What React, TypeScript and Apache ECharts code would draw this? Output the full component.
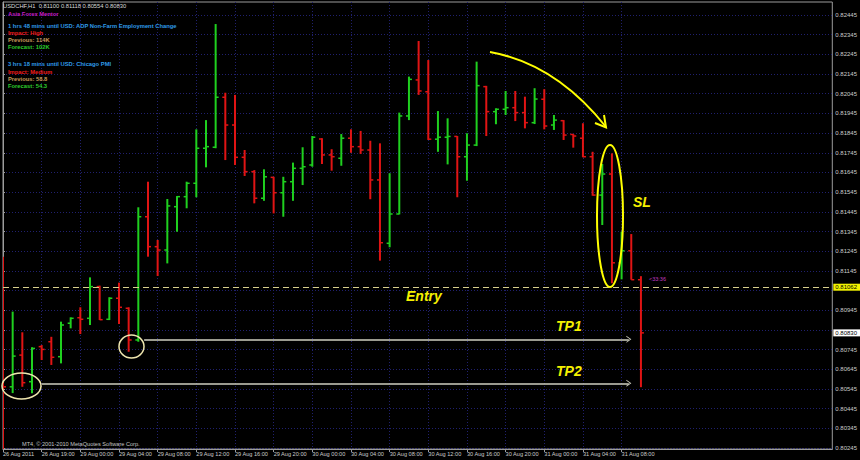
import React, { useEffect, useRef } from 'react';
import * as echarts from 'echarts';

// Hourly bars (USDCHF, H1)
const barTimes = [
  '26 Aug 15:00', '26 Aug 16:00', '26 Aug 17:00', '26 Aug 18:00', '26 Aug 19:00', '26 Aug 20:00', '26 Aug 21:00', '26 Aug 22:00',
  '29 Aug 00:00', '29 Aug 01:00', '29 Aug 02:00', '29 Aug 03:00', '29 Aug 04:00', '29 Aug 05:00', '29 Aug 06:00', '29 Aug 07:00',
  '29 Aug 08:00', '29 Aug 09:00', '29 Aug 10:00', '29 Aug 11:00', '29 Aug 12:00', '29 Aug 13:00', '29 Aug 14:00', '29 Aug 15:00',
  '29 Aug 16:00', '29 Aug 17:00', '29 Aug 18:00', '29 Aug 19:00', '29 Aug 20:00', '29 Aug 21:00', '29 Aug 22:00', '29 Aug 23:00',
  '30 Aug 00:00', '30 Aug 01:00', '30 Aug 02:00', '30 Aug 03:00', '30 Aug 04:00', '30 Aug 05:00', '30 Aug 06:00', '30 Aug 07:00',
  '30 Aug 08:00', '30 Aug 09:00', '30 Aug 10:00', '30 Aug 11:00', '30 Aug 12:00', '30 Aug 13:00', '30 Aug 14:00', '30 Aug 15:00',
  '30 Aug 16:00', '30 Aug 17:00', '30 Aug 18:00', '30 Aug 19:00', '30 Aug 20:00', '30 Aug 21:00', '30 Aug 22:00', '30 Aug 23:00',
  '31 Aug 00:00', '31 Aug 01:00', '31 Aug 02:00', '31 Aug 03:00', '31 Aug 04:00', '31 Aug 05:00', '31 Aug 06:00', '31 Aug 07:00',
  '31 Aug 08:00', '31 Aug 09:00', '31 Aug 10:00',
];

const opens = [
  0.81180, 0.80556, 0.80717, 0.80582, 0.80760, 0.80785, 0.80709, 0.80879,
  0.80907, 0.80904, 0.81065, 0.80899, 0.81006, 0.80955, 0.80794, 0.81420,
  0.81268, 0.81251, 0.81471, 0.81522, 0.81590, 0.81768, 0.81773, 0.82027,
  0.81886, 0.81722, 0.81649, 0.81514, 0.81620, 0.81542, 0.81598, 0.81666,
  0.81683, 0.81815, 0.81734, 0.81717, 0.81819, 0.81776, 0.81759, 0.81607,
  0.81285, 0.81434, 0.81932, 0.82115, 0.82055, 0.81814, 0.81824, 0.81828,
  0.81725, 0.81784, 0.82081, 0.81954, 0.81966, 0.81974, 0.81949, 0.81898,
  0.82017, 0.81886, 0.81908, 0.81838, 0.81819, 0.81725, 0.81530, 0.81637,
  0.81186, 0.81247, 0.81100,
];
const highs = [
  0.81217, 0.80938, 0.80833, 0.80757, 0.80768, 0.80810, 0.80887, 0.80909,
  0.80960, 0.81112, 0.81070, 0.81011, 0.81085, 0.80960, 0.81468, 0.81598,
  0.81302, 0.81510, 0.81525, 0.81598, 0.81864, 0.81911, 0.82399, 0.82050,
  0.82039, 0.81759, 0.81657, 0.81661, 0.81623, 0.81623, 0.81695, 0.81773,
  0.81830, 0.81819, 0.81763, 0.81840, 0.81864, 0.81856, 0.81806, 0.81793,
  0.81641, 0.81949, 0.82132, 0.82313, 0.82216, 0.81957, 0.81920, 0.81830,
  0.81844, 0.82208, 0.82085, 0.81971, 0.82059, 0.82059, 0.82030, 0.82073,
  0.82068, 0.81937, 0.81911, 0.81840, 0.81895, 0.81750, 0.81688, 0.81742,
  0.81344, 0.81332, 0.81118,
];
const lows = [
  0.80100, 0.80524, 0.80556, 0.80523, 0.80692, 0.80667, 0.80675, 0.80853,
  0.80824, 0.80870, 0.80895, 0.80895, 0.80875, 0.80734, 0.80785, 0.81217,
  0.81119, 0.81183, 0.81344, 0.81463, 0.81519, 0.81671, 0.81768, 0.81708,
  0.81683, 0.81627, 0.81488, 0.81501, 0.81437, 0.81420, 0.81501, 0.81581,
  0.81674, 0.81688, 0.81654, 0.81679, 0.81745, 0.81739, 0.81509, 0.81197,
  0.81265, 0.81432, 0.81911, 0.82039, 0.81810, 0.81750, 0.81686, 0.81519,
  0.81603, 0.81779, 0.81830, 0.81890, 0.81937, 0.81906, 0.81869, 0.81891,
  0.81864, 0.81861, 0.81810, 0.81771, 0.81722, 0.81527, 0.81378, 0.81082,
  0.81102, 0.81100, 0.80554,
];
const closes = [
  0.80556, 0.80712, 0.80577, 0.80751, 0.80746, 0.80706, 0.80870, 0.80904,
  0.80899, 0.81065, 0.80897, 0.81006, 0.80960, 0.80794, 0.81420, 0.81268,
  0.81251, 0.81475, 0.81522, 0.81590, 0.81768, 0.81776, 0.82027, 0.81886,
  0.81722, 0.81649, 0.81514, 0.81623, 0.81542, 0.81598, 0.81666, 0.81674,
  0.81824, 0.81734, 0.81725, 0.81819, 0.81776, 0.81759, 0.81607, 0.81288,
  0.81434, 0.81932, 0.82118, 0.82059, 0.81814, 0.81824, 0.81828, 0.81725,
  0.81784, 0.82086, 0.81954, 0.81966, 0.81974, 0.81949, 0.81898, 0.82018,
  0.81881, 0.81911, 0.81835, 0.81830, 0.81725, 0.81530, 0.81637, 0.81186,
  0.81247, 0.81100, 0.80830,
];

// Axis ticks
const priceGrid = [
  0.80245, 0.80345, 0.80445, 0.80545, 0.80645, 0.80745, 0.80845, 0.80945, 0.81045, 0.81145, 0.81245, 0.81345,
  0.81445, 0.81545, 0.81645, 0.81745, 0.81845, 0.81945, 0.82045, 0.82145, 0.82245, 0.82345, 0.82445,
];
const priceLabels = [
  0.80245, 0.80345, 0.80445, 0.80545, 0.80645, 0.80745, 0.80945, 0.81145, 0.81245, 0.81345,
  0.81445, 0.81545, 0.81645, 0.81745, 0.81845, 0.81945, 0.82045, 0.82145, 0.82245, 0.82345, 0.82445,
];
const timeTickIdx = [0, 4, 8, 12, 16, 20, 24, 28, 32, 36, 40, 44, 48, 52, 56, 60, 64];
const timeTickLabels = [
  '26 Aug 2011', '26 Aug 19:00', '29 Aug 00:00', '29 Aug 04:00', '29 Aug 08:00', '29 Aug 12:00',
  '29 Aug 16:00', '29 Aug 20:00', '30 Aug 00:00', '30 Aug 04:00', '30 Aug 08:00', '30 Aug 12:00',
  '30 Aug 16:00', '30 Aug 20:00', '31 Aug 00:00', '31 Aug 04:00', '31 Aug 08:00',
];

// Trade levels
const entryPrice = 0.81062;
const currentPrice = 0.80830;
const tp1Price = 0.80797;
const tp2Price = 0.80574;
const tp1Start = 14.6;
const tp2Start = 4.0;
const tpEnd = 64.75;
const xMax = 85.8;

const infoLines = [
  { text: 'Asia Forex Mentor', color: '#c41cc4' },
  { text: '1 hrs 48 mins until USD: ADP Non-Farm Employment Change', color: '#2f9be8' },
  { text: 'Impact: High', color: '#f01c1c' },
  { text: 'Previous: 114K', color: '#c89a5a' },
  { text: 'Forecast: 102K', color: '#2ccc2c' },
  { text: '3 hrs 18 mins until USD: Chicago PMI', color: '#2f9be8' },
  { text: 'Impact: Medium', color: '#f01c1c' },
  { text: 'Previous: 58.8', color: '#c89a5a' },
  { text: 'Forecast: 54.3', color: '#2ccc2c' },
];
const infoY = [14, 25.7, 33.3, 40, 47.3, 64, 71.7, 79, 86.3];

const GREEN = '#1fd01f';
const RED = '#e01414';
const GRID = '#20206e';
const FONT = '"Liberation Sans", Arial, sans-serif';

function txt(text: string, x: number, y: number, fill: string, font: string) {
  return {
    type: 'text',
    silent: true,
    z: 100,
    style: { text, x, y, fill, font, align: 'left', verticalAlign: 'middle', textAlign: 'left', textVerticalAlign: 'middle' },
  };
}

function priceTag(price: number, bg: string, lineStyle: any) {
  return [
    { coord: [0, price], symbol: 'none' },
    {
      coord: [xMax, price],
      symbol: 'none',
      lineStyle,
      label: {
        show: true, position: 'end', distance: 1, formatter: price.toFixed(5),
        backgroundColor: bg, color: '#000000', fontSize: 6, padding: [1, 6, 0, 2], fontFamily: FONT, opacity: 1,
      },
    },
  ];
}

function tpLine(start: number, price: number, symbol: string) {
  const lineStyle = { color: '#cfcfc0', type: 'solid', width: 1.5, opacity: 1 };
  return [
    { coord: [start, price], symbol: 'none' },
    { coord: [tpEnd, price], symbol, symbolSize: [7, 5], itemStyle: { color: '#cfcfc0' }, lineStyle, label: { show: false } },
  ];
}

export default function App() {
  const ref = useRef<HTMLDivElement>(null);
  useEffect(() => {
    const chart = echarts.init(ref.current as HTMLDivElement, null, { renderer: 'svg' });
    const data = barTimes.map((t, i) => [i, opens[i], highs[i], lows[i], closes[i], t]);

    const renderItem = (params: any, api: any) => {
      const i = api.value(0);
      const o = api.value(1);
      const h = api.value(2);
      const l = api.value(3);
      const c = api.value(4);
      const pO = api.coord([i, o]);
      const pH = api.coord([i, h]);
      const pL = api.coord([i, l]);
      const pC = api.coord([i, c]);
      const color = c >= o ? GREEN : RED;
      const t = 3;
      return {
        type: 'group',
        children: [
          { type: 'line', shape: { x1: pH[0], y1: pH[1], x2: pL[0], y2: pL[1] }, style: { stroke: color, lineWidth: 2 } },
          { type: 'line', shape: { x1: pO[0] - t, y1: pO[1], x2: pO[0], y2: pO[1] }, style: { stroke: color, lineWidth: 1.5 } },
          { type: 'line', shape: { x1: pC[0], y1: pC[1], x2: pC[0] + t, y2: pC[1] }, style: { stroke: color, lineWidth: 1.5 } },
        ],
      };
    };

    const chevron = 'path://M0,10 L5,0 L10,10 L8.6,10 L5,2.8 L1.4,10 Z';

    const graphic: any[] = [
      txt('USDCHF,H1  0.81100 0.81118 0.80554 0.80830', 3, 6, '#d8d8d8', `5.8px ${FONT}`),
      ...infoLines.map((l, k) => txt(l.text, 8, infoY[k], l.color, `bold 5.8px ${FONT}`)),
      txt('MT4, \u00a9 2001-2010 MetaQuotes Software Corp.', 22, 444, '#c4c4c4', `5.6px ${FONT}`),
      txt('<33:36', 649, 279, '#c23cc2', `5.5px ${FONT}`),
      txt('Entry', 406, 295.5, '#f5f000', `italic bold 14px ${FONT}`),
      txt('TP1', 556, 326, '#f5f000', `italic bold 14px ${FONT}`),
      txt('TP2', 556, 371, '#f5f000', `italic bold 14px ${FONT}`),
      txt('SL', 633, 202, '#f5f000', `italic bold 14px ${FONT}`),
      { type: 'ellipse', silent: true, z: 90, shape: { cx: 21.5, cy: 386, rx: 19.5, ry: 13 }, style: { fill: 'none', stroke: '#efe6ae', lineWidth: 1.5 } },
      { type: 'ellipse', silent: true, z: 90, shape: { cx: 131.5, cy: 346.5, rx: 12.5, ry: 11.5 }, style: { fill: 'none', stroke: '#efe6ae', lineWidth: 1.5 } },
      { type: 'ellipse', silent: true, z: 90, shape: { cx: 610, cy: 216, rx: 13, ry: 71 }, style: { fill: 'none', stroke: '#ffff00', lineWidth: 2 } },
      { type: 'bezierCurve', silent: true, z: 90, shape: { x1: 490, y1: 52, x2: 606, y2: 127, cpx1: 556, cpy1: 64 }, style: { fill: 'none', stroke: '#ffff00', lineWidth: 2 } },
      { type: 'polyline', silent: true, z: 90, shape: { points: [[595, 123], [606, 127.5], [604, 115]] }, style: { fill: 'none', stroke: '#ffff00', lineWidth: 2 } },
    ];

    const option: any = {
      animation: false,
      backgroundColor: '#000000',
      textStyle: { fontFamily: FONT },
      grid: { left: 2, right: 23, top: 2, bottom: 11, show: true, borderColor: '#9c9c9c', borderWidth: 1, backgroundColor: '#000000' },
      xAxis: {
        type: 'value',
        min: 0,
        max: xMax,
        axisLine: { show: true, lineStyle: { color: '#9c9c9c', width: 1 } },
        axisTick: { show: true, length: 3, lineStyle: { color: '#9c9c9c' }, customValues: timeTickIdx },
        axisLabel: {
          customValues: timeTickIdx,
          formatter: (v: number) => timeTickLabels[timeTickIdx.indexOf(v)] ?? '',
          align: 'left',
          margin: 2,
          fontSize: 5.6,
          color: '#cccccc',
          fontFamily: FONT,
        },
        splitLine: { show: true, lineStyle: { color: GRID, type: [1, 2], width: 1 } },
      },
      yAxis: {
        type: 'value',
        position: 'right',
        min: 0.8024,
        max: 0.82511,
        axisLine: { show: true, lineStyle: { color: '#9c9c9c', width: 1 } },
        axisTick: { show: true, length: 2, lineStyle: { color: '#9c9c9c' }, customValues: priceGrid },
        axisLabel: {
          customValues: priceLabels,
          formatter: (v: number) => v.toFixed(5),
          margin: 3,
          fontSize: 6,
          color: '#cccccc',
          fontFamily: FONT,
        },
        splitLine: { show: true, lineStyle: { color: GRID, type: [1, 2], width: 1 } },
      },
      series: [
        {
          type: 'custom',
          name: 'USDCHF,H1',
          renderItem,
          data,
          clip: true,
          encode: { x: 0, y: [1, 2, 3, 4] },
        },
        {
          type: 'line',
          name: 'levels',
          data: [],
          clip: false,
          silent: true,
          showSymbol: false,
          markLine: {
            silent: true,
            symbol: ['none', 'none'],
            animation: false,
            data: [
              priceTag(entryPrice, '#f2f200', { color: '#d8d08c', type: [6, 4], width: 1 }),
              priceTag(currentPrice, '#ffffff', { color: 'rgba(0,0,0,0)', width: 1, opacity: 1 }),
              tpLine(tp1Start, tp1Price, chevron),
              tpLine(tp2Start, tp2Price, chevron),
            ],
          },
        },
      ],
      graphic,
    };
    chart.setOption(option);
    return () => chart.dispose();
  }, []);
  return <div ref={ref} style={{ position: 'fixed', left: 0, top: 0, width: 860, height: 460 }} />;
}
